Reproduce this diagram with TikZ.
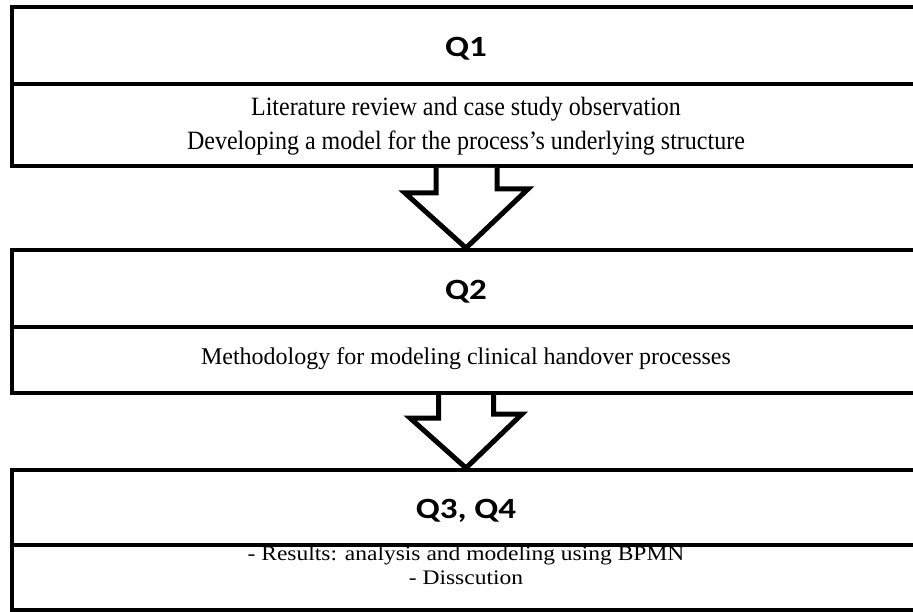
\documentclass[tikz,border=0pt]{standalone}
\usepackage{graphicx}
\usepackage{fontspec}
\setmainfont{Liberation Serif}
\newfontfamily\titlefont{Carlito}
% text block, stretched vertically by #1
\newcommand{\textblock}[2]{\scalebox{1}[#1]{\begin{tabular}{@{}c@{}}#2\end{tabular}}}
% stage heading, slightly flattened
\newcommand{\heading}[1]{\scalebox{1}[0.84]{#1}}
\begin{document}
\begin{tikzpicture}[x=1pt,y=-1pt,
  frame/.style={draw=black, line width=4pt, minimum width=908pt, inner sep=0pt},
  titlebox/.style={frame, text height=22pt, text depth=0pt,
    font=\titlefont\bfseries\fontsize{35}{40}\selectfont},
  bodytext/.style={inner sep=0pt},
  blockarrow/.style={draw=black, line width=5pt, fill=white, line join=miter}]
\useasboundingbox (0,0) rectangle (913,612);
\begin{scope}
\clip (0,0) rectangle (913,612);

% stage boxes: title part and body part
\node[titlebox, minimum height=77pt] (t1) at (466,46) {\heading{Q1}};
\node[frame, minimum height=81.5pt] (b1) at (466,125.25) {};
\node[titlebox, minimum height=77pt] (t2) at (466,288.5) {\heading{Q2}};
\node[frame, minimum height=66pt] (b2) at (466,360) {};
\node[titlebox, minimum height=75pt] (t3) at (466,507.5) {\heading{Q3, Q4}};
\node[frame, minimum height=65pt] (b3) at (466,577.5) {};

% body texts
\node[bodytext, font=\fontsize{24}{31.8}\selectfont] (x1) at (466,125.5)
  {\textblock{1.1}{Literature review and case study observation\\Developing a model for the process’s underlying structure}};
\node[bodytext, font=\fontsize{24}{25}\selectfont] (x2) at (466,360)
  {\textblock{1.0}{Methodology for modeling clinical handover processes}};
\node[bodytext, font=\fontsize{23.5}{28.4}\selectfont] (x3) at (466,567.5)
  {\textblock{0.88}{- Results: analysis and modeling using BPMN\\- Disscution}};
\end{scope}

% block arrows between the stages
\draw[blockarrow] ([xshift=-30pt]b1.south) -- ++(0,25) -- ++(-31,0) -- (t2.north)
  -- ++(62,-59) -- ++(-31,0) -- ([xshift=31pt]b1.south);
\draw[blockarrow] ([xshift=-27.5pt]b2.south) -- ++(0,23) -- ++(-28.5,0) -- (t3.north)
  -- ++(56,-54) -- ++(-28.5,0) -- ([xshift=27.5pt]b2.south);
\end{tikzpicture}
\end{document}
